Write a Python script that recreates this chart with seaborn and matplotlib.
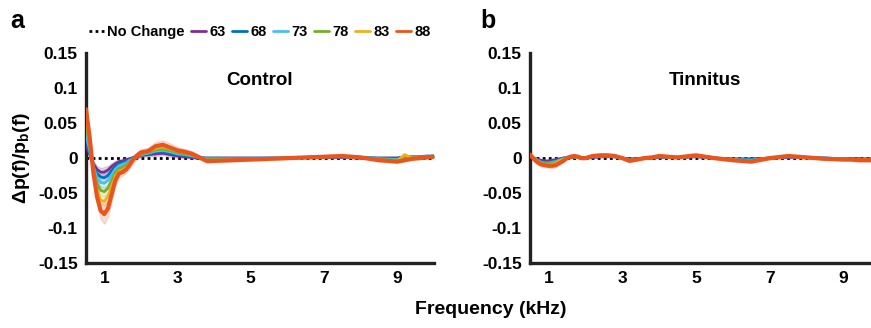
import matplotlib
matplotlib.use("Agg")
import matplotlib.pyplot as plt
import seaborn as sns
import numpy as np
import pandas as pd

freq = [0.5,0.6,0.7,0.8,0.9,1.0,1.1,1.2,1.3,1.4,1.5,1.6,1.7,1.8,1.9,2.0,2.2,2.4,2.6,2.8,3.0,3.2,3.4,3.6,3.8,4.0,4.5,5.0,5.5,6.0,6.5,7.0,7.5,8.0,8.5,9.0,9.2,9.4,9.6,9.8,10.0]
levels = ["63", "68", "73", "78", "83", "88"]
colors = ["#7E2F8E", "#0072BD", "#4DBEEE", "#77AC30", "#EDB120", "#E8561E"]

control = {
    "63": [0.018,0.005,-0.008,-0.016,-0.020,-0.020,-0.017,-0.012,-0.008,-0.005,-0.004,-0.002,-0.001,0.001,0.002,0.004,0.005,0.006,0.007,0.005,0.003,0.002,0.001,0.000,0.000,0.000,0.000,0.000,0.000,0.000,0.001,0.001,0.001,0.000,0.000,0.000,0.001,0.001,0.001,0.002,0.002],
    "68": [0.025,0.008,-0.010,-0.022,-0.027,-0.028,-0.025,-0.018,-0.012,-0.008,-0.006,-0.004,-0.002,0.001,0.003,0.005,0.006,0.008,0.009,0.007,0.005,0.004,0.002,0.001,0.000,0.000,0.000,0.000,0.000,0.000,0.001,0.002,0.002,0.001,0.000,0.000,0.002,0.002,0.002,0.003,0.003],
    "73": [0.035,0.012,-0.012,-0.028,-0.035,-0.036,-0.032,-0.024,-0.016,-0.011,-0.009,-0.007,-0.003,0.000,0.003,0.005,0.007,0.010,0.011,0.009,0.006,0.005,0.003,0.001,-0.001,-0.001,-0.001,-0.001,0.000,0.000,0.001,0.002,0.002,0.001,-0.001,-0.002,0.002,0.001,0.001,0.002,0.003],
    "78": [0.045,0.018,-0.015,-0.036,-0.046,-0.048,-0.043,-0.032,-0.021,-0.015,-0.013,-0.010,-0.005,0.000,0.003,0.006,0.008,0.012,0.013,0.011,0.008,0.006,0.004,0.001,-0.002,-0.002,-0.002,-0.001,-0.001,0.000,0.001,0.002,0.002,0.001,-0.002,-0.003,0.002,0.000,0.001,0.002,0.003],
    "83": [0.060,0.025,-0.018,-0.045,-0.060,-0.062,-0.055,-0.040,-0.026,-0.019,-0.017,-0.013,-0.007,-0.001,0.003,0.007,0.009,0.014,0.016,0.013,0.010,0.008,0.005,0.001,-0.003,-0.003,-0.003,-0.002,-0.001,0.000,0.001,0.002,0.003,0.001,-0.003,-0.004,0.005,0.000,0.000,0.001,0.002],
    "88": [0.070,0.030,-0.020,-0.055,-0.075,-0.080,-0.072,-0.052,-0.032,-0.022,-0.020,-0.016,-0.009,-0.001,0.004,0.008,0.010,0.017,0.019,0.015,0.011,0.009,0.006,0.001,-0.004,-0.004,-0.003,-0.002,-0.001,0.000,0.001,0.002,0.003,0.001,-0.003,-0.005,-0.003,-0.001,0.000,0.001,0.002],
}
control_sem = [0.010,0.008,0.008,0.010,0.012,0.014,0.012,0.010,0.008,0.006,0.005,0.005,0.005,0.005,0.005,0.005,0.005,0.006,0.006,0.006,0.005,0.004,0.004,0.003,0.003,0.002,0.002,0.002,0.002,0.002,0.002,0.002,0.002,0.002,0.002,0.002,0.002,0.002,0.002,0.002,0.002]

tinnitus = {
    "63": [0.002,0.000,-0.002,-0.003,-0.004,-0.004,-0.003,-0.002,-0.001,0.000,0.001,0.001,0.001,0.001,0.000,0.000,0.001,0.002,0.002,0.002,0.000,-0.001,-0.001,0.000,0.000,0.001,0.001,0.002,0.000,-0.001,-0.001,0.000,0.001,0.001,0.000,-0.001,-0.001,-0.001,-0.001,-0.001,-0.001],
    "68": [0.003,0.000,-0.003,-0.005,-0.006,-0.006,-0.005,-0.004,-0.002,0.000,0.001,0.001,0.002,0.001,0.000,0.000,0.002,0.002,0.003,0.002,0.000,-0.002,-0.001,0.000,0.001,0.002,0.001,0.003,0.000,-0.002,-0.002,0.000,0.002,0.001,0.000,-0.001,-0.001,-0.001,-0.002,-0.001,-0.001],
    "73": [0.003,0.000,-0.003,-0.006,-0.007,-0.007,-0.006,-0.005,-0.003,-0.001,0.001,0.002,0.002,0.001,0.000,0.000,0.002,0.003,0.003,0.002,0.000,-0.003,-0.002,0.000,0.001,0.002,0.001,0.003,0.000,-0.002,-0.003,0.000,0.002,0.001,0.000,-0.001,-0.002,-0.002,-0.002,-0.002,-0.001],
    "78": [0.004,0.000,-0.004,-0.007,-0.008,-0.008,-0.007,-0.006,-0.004,-0.001,0.001,0.002,0.002,0.001,0.000,0.000,0.003,0.003,0.004,0.003,0.000,-0.003,-0.002,0.000,0.001,0.002,0.001,0.004,0.000,-0.003,-0.004,0.000,0.003,0.001,-0.001,-0.001,-0.002,-0.002,-0.002,-0.002,-0.002],
    "83": [0.005,0.000,-0.005,-0.008,-0.009,-0.010,-0.009,-0.007,-0.004,-0.002,0.001,0.002,0.002,0.001,0.000,0.000,0.003,0.004,0.004,0.003,0.000,-0.004,-0.002,0.000,0.001,0.003,0.001,0.004,0.000,-0.003,-0.004,0.000,0.003,0.001,-0.001,-0.002,-0.002,-0.003,-0.003,-0.002,-0.002],
    "88": [0.005,-0.001,-0.006,-0.009,-0.010,-0.011,-0.011,-0.010,-0.007,-0.004,0.000,0.002,0.003,0.002,0.000,0.000,0.003,0.004,0.004,0.003,0.000,-0.004,-0.002,0.000,0.001,0.003,0.001,0.004,0.000,-0.003,-0.005,0.000,0.003,0.001,-0.001,-0.002,-0.002,-0.003,-0.003,-0.003,-0.002],
}
tinnitus_sem = [0.004,0.003,0.003,0.003,0.003,0.003,0.003,0.003,0.002,0.002,0.002,0.002,0.002,0.002,0.002,0.002,0.002,0.002,0.002,0.002,0.002,0.002,0.002,0.002,0.002,0.002,0.002,0.002,0.002,0.002,0.002,0.002,0.002,0.002,0.002,0.002,0.002,0.002,0.002,0.002,0.002]

x_ticks = [1, 3, 5, 7, 9]
y_ticks = [-0.15, -0.1, -0.05, 0, 0.05, 0.1, 0.15]
y_ticklabels = ["-0.15", "-0.1", "-0.05", "0", "0.05", "0.1", "0.15"]

sns.set_theme(style="white")
plt.rcParams['font.family'] = ['Liberation Sans', 'DejaVu Sans']
plt.rcParams['font.weight'] = 'bold'
plt.rcParams['text.color'] = 'black'
plt.rcParams['mathtext.fontset'] = 'custom'
plt.rcParams['mathtext.rm'] = 'Liberation Sans:bold'
plt.rcParams['mathtext.it'] = 'Liberation Sans:bold'
plt.rcParams['mathtext.bf'] = 'Liberation Sans:bold'

fig = plt.figure(figsize=(8.71, 3.28), dpi=100)
axL = fig.add_axes([0.0987, 0.198, 0.3995, 0.640])
axR = fig.add_axes([0.6085, 0.198, 0.4024, 0.640])

def draw(ax, data, sem, title):
    ax.plot([0.5, 10], [0, 0], color="black", ls=(0, (1, 1.2)), lw=2, label="No Change", zorder=1)
    for lev, col in zip(levels, colors):
        df = pd.DataFrame({"f": freq, "v": data[lev]})
        y = np.array(data[lev])
        s = np.array(sem) * (0.5 if lev != "88" else 1.0)
        ax.fill_between(freq, y - s, y + s, color=col, alpha=0.2, lw=0.8, zorder=2)
        sns.lineplot(data=df, x="f", y="v", ax=ax, color=col,
                     lw=3.0 if lev == "88" else 2.0, label=lev, zorder=3, legend=False)
    ax.set_xlim(0.5, 10)
    ax.set_ylim(-0.15, 0.15)
    ax.set_xticks(x_ticks)
    ax.set_xticklabels([str(t) for t in x_ticks], fontsize=12.5, fontweight='bold', color='black')
    ax.set_yticks(y_ticks)
    ax.set_yticklabels(y_ticklabels, fontsize=12.5, fontweight='bold', color='black')
    ax.set_xlabel("")
    ax.set_ylabel("")
    for sp in ["top", "right"]:
        ax.spines[sp].set_visible(False)
    for sp in ["left", "bottom"]:
        ax.spines[sp].set_linewidth(2.4)
        ax.spines[sp].set_color("#222222")
    ax.tick_params(direction="in", length=7, width=2.4, color="#222222", pad=6)
    ax.text(0.5, 0.87, title, transform=ax.transAxes, ha="center", va="center",
            fontsize=13.5, fontweight="bold", color="black")
    ax.grid(False)

draw(axL, control, control_sem, "Control")
draw(axR, tinnitus, tinnitus_sem, "Tinnitus")

handles, labels = axL.get_legend_handles_labels()
leg = axL.legend(handles, labels, loc="center", bbox_to_anchor=(0.5, 1.1), ncol=7,
                 frameon=False, handlelength=1.0, handletextpad=0.25, columnspacing=0.45,
                 prop={"weight": "bold", "size": 10.5})
for h in leg.get_lines():
    h.set_linewidth(2)
for t in leg.get_texts():
    t.set_color("black")

fig.text(0.5635, 0.055, "Frequency (kHz)", ha="center", va="center", fontsize=14, fontweight="bold")
fig.text(0.025, 0.52, r"$\Delta$p(f)/p$_\mathregular{b}$(f)", rotation=90, ha="center", va="center",
         fontsize=14, fontweight="bold")
fig.text(0.012, 0.935, "a", fontsize=18, fontweight="bold", ha="left", va="center")
fig.text(0.552, 0.935, "b", fontsize=18, fontweight="bold", ha="left", va="center")

fig.savefig("out.png", dpi=100)
